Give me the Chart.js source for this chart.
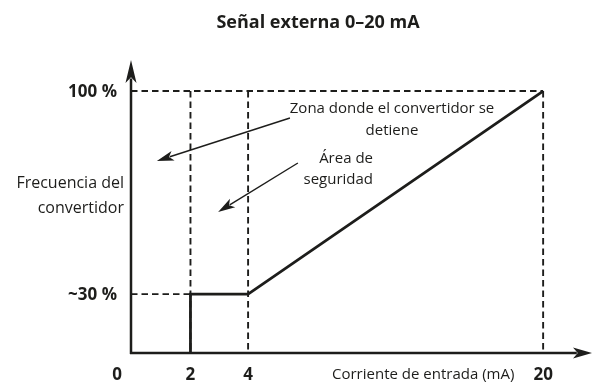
<!DOCTYPE html>
<html>
<head>
<meta charset="utf-8">
<script src="https://cdn.jsdelivr.net/npm/chart.js@4"></script>
<style>
    body { margin: 0; background: #ffffff; }
    #grafica { display: block; }
</style>
</head>
<body>
<canvas id="grafica" width="593" height="384"></canvas>
<script>
// datos de la curva (corriente en mA, frecuencia en %)
const corrienteCurva = [2, 2, 4, 20];
const frecuenciaCurva = [0, 30, 30, 100];

const ticksCorriente = [0, 2, 4, 20];
const etiquetasCorriente = ['0', '2', '4', '20'];
const ticksFrecuencia = [30, 100];
const etiquetasFrecuencia = ['~30 %', '100 %'];

const titulo = 'Señal externa 0–20 mA';
const tituloEjeX = 'Corriente de entrada (mA)';
const tituloEjeY = ['Frecuencia del', 'convertidor'];

// flechas de las notas, en unidades de los ejes [x1, y1, x2, y2]
const flechaZona = [6.27, 90.7, 0.87, 75.9];
const flechaSeguridad = [6.7, 75.2, 2.96, 58.3];

const NEGRO = '#1d1d1b';
const FUENTE = '"Open Sans", "Noto Sans", sans-serif';

// el dibujo no es lineal: cada tramo ocupa su propio ancho
const tramosEje = {
    x: { valores: [0, 2, 4, 20, 22], fracciones: [0, 0.129, 0.254, 0.894, 1] },
    y: { valores: [0, 30, 100, 110], fracciones: [0, 0.201, 0.894, 1] }
};

class EscalaTramos extends Chart.LinearScale {
    static id = 'tramos';
    static defaults = Chart.LinearScale.defaults;

    getPixelForValue(valor) {
        const t = tramosEje[this.axis];
        const v = t.valores, f = t.fracciones;
        let i = 1;
        while (i < v.length - 1 && valor > v[i]) i++;
        const dec = f[i - 1] + (valor - v[i - 1]) / (v[i] - v[i - 1]) * (f[i] - f[i - 1]);
        return this.getPixelForDecimal(dec);
    }

    getValueForPixel(pixel) {
        const t = tramosEje[this.axis];
        const v = t.valores, f = t.fracciones;
        const dec = this.getDecimalForPixel(pixel);
        let i = 1;
        while (i < f.length - 1 && dec > f[i]) i++;
        return v[i - 1] + (dec - f[i - 1]) / (f[i] - f[i - 1]) * (v[i] - v[i - 1]);
    }
}
Chart.register(EscalaTramos);

// líneas guía punteadas a partir de los ticks
function construirGuias() {
    const guias = [];
    const techo = ticksFrecuencia[ticksFrecuencia.length - 1];
    ticksCorriente.slice(1).forEach(x => {
        guias.push([{x: x, y: techo}, {x: x, y: 0}]);
    });
    ticksFrecuencia.forEach(nivel => {
        const i = frecuenciaCurva.indexOf(nivel);
        guias.push([{x: 0, y: nivel}, {x: corrienteCurva[i], y: nivel}]);
    });
    return guias.map(puntos => ({
        data: puntos,
        borderColor: NEGRO,
        borderWidth: 1.9,
        borderDash: [6.5, 4],
        pointRadius: 0,
        clip: false
    }));
}

function dibujarFlecha(ctx, x1, y1, x2, y2, grosor, largo, ancho) {
    const ang = Math.atan2(y2 - y1, x2 - x1);
    const bx = x2 - Math.cos(ang) * largo * 0.8;
    const by = y2 - Math.sin(ang) * largo * 0.8;
    ctx.lineWidth = grosor;
    ctx.beginPath();
    ctx.moveTo(x1, y1);
    ctx.lineTo(bx, by);
    ctx.stroke();
    ctx.save();
    ctx.translate(x2, y2);
    ctx.rotate(ang);
    ctx.beginPath();
    ctx.moveTo(0, 0);
    ctx.lineTo(-largo, -ancho);
    ctx.lineTo(-largo * 0.75, 0);
    ctx.lineTo(-largo, ancho);
    ctx.closePath();
    ctx.fill();
    ctx.restore();
}

const pluginDiagrama = {
    id: 'diagrama',
    afterDatasetsDraw(chart) {
        const ctx = chart.ctx;
        const area = chart.chartArea;
        const ex = chart.scales.x;
        const ey = chart.scales.y;
        const x0 = ex.getPixelForValue(0);
        const y0 = ey.getPixelForValue(0);

        ctx.save();
        ctx.strokeStyle = NEGRO;
        ctx.fillStyle = NEGRO;
        ctx.setLineDash([]);

        // ejes con flecha
        dibujarFlecha(ctx, x0, y0 + 1, x0, area.top, 2.5, 23, 5.5);
        dibujarFlecha(ctx, x0 - 1, y0, area.right, y0, 2.5, 19, 5.5);

        // notas con flecha
        [flechaZona, flechaSeguridad].forEach(f => {
            dibujarFlecha(ctx,
                ex.getPixelForValue(f[0]), ey.getPixelForValue(f[1]),
                ex.getPixelForValue(f[2]), ey.getPixelForValue(f[3]), 1.4, 17, 5);
        });

        // título
        ctx.textBaseline = 'alphabetic';
        ctx.textAlign = 'center';
        ctx.font = 'bold 18px ' + FUENTE;
        ctx.fillText(titulo, 318, 28);

        // etiquetas del eje x
        ctx.font = 'bold 17px ' + FUENTE;
        ticksCorriente.forEach((v, i) => {
            const px = v === 0 ? x0 - 14 : ex.getPixelForValue(v);
            ctx.fillText(etiquetasCorriente[i], px, 380);
        });

        // etiquetas del eje y
        ctx.textAlign = 'right';
        ctx.textBaseline = 'middle';
        ticksFrecuencia.forEach((v, i) => {
            ctx.fillText(etiquetasFrecuencia[i], 117, ey.getPixelForValue(v) + 1);
        });

        // títulos de ejes
        ctx.font = '16px ' + FUENTE;
        ctx.textBaseline = 'alphabetic';
        ctx.fillText(tituloEjeY[0], 124, 188);
        ctx.fillText(tituloEjeY[1], 124, 213);
        ctx.font = '15px ' + FUENTE;
        ctx.textAlign = 'left';
        ctx.fillText(tituloEjeX, 332, 379);

        // textos de las notas
        ctx.textAlign = 'center';
        ctx.fillText('Zona donde el convertidor se', 392, 113);
        ctx.fillText('detiene', 392, 135);
        ctx.textAlign = 'right';
        ctx.fillText('Área de', 373, 163);
        ctx.fillText('seguridad', 373, 184);
        ctx.restore();
    }
};

document.addEventListener('DOMContentLoaded', () => {
    const lienzo = document.getElementById('grafica');

    const curva = {
        data: corrienteCurva.map((x, i) => ({x: x, y: frecuenciaCurva[i]})),
        borderColor: NEGRO,
        borderWidth: 2.8,
        pointRadius: 0,
        tension: 0,
        clip: false
    };

    new Chart(lienzo, {
        type: 'line',
        data: { datasets: [curva, ...construirGuias()] },
        options: {
            responsive: false,
            animation: false,
            events: [],
            layout: { padding: { left: 131, right: 1, top: 60, bottom: 31 } },
            plugins: {
                legend: { display: false },
                tooltip: { enabled: false },
                title: { display: false }
            },
            scales: {
                x: { type: 'tramos', min: 0, max: 22, display: false },
                y: { type: 'tramos', min: 0, max: 110, display: false }
            }
        },
        plugins: [pluginDiagrama]
    });
});
</script>
</body>
</html>
